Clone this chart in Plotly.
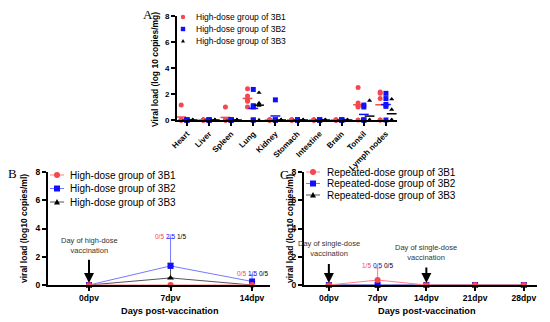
import numpy as np
import plotly.graph_objects as go

W, H = 550, 322
OX, OY = 8, 8   # page body margin offset
def px(x): return (x - OX) / W
def py(y): return 1 - (y - OY) / H

# ---------------- data ----------------
tissues = ["Heart", "Liver", "Spleen", "Lung", "Kidney", "Stomach",
           "Intestine", "Brain", "Tonsil", "Lymph nodes"]
a_3b1 = [[1.15, 0, 0, 0, 0], [0, 0, 0, 0, 0], [1.0, 0, 0, 0, 0],
         [2.4, 1.85, 1.6, 1.45, 1.0], [0, 0, 0, 0, 0], [0, 0, 0, 0, 0],
         [0, 0, 0, 0, 0], [0, 0, 0, 0, 0], [2.5, 1.3, 1.05, 1.0, 0],
         [2.15, 2.05, 1.65, 0, 0]]
a_3b2 = [[0, 0, 0, 0, 0], [0, 0, 0, 0, 0], [0, 0, 0, 0, 0],
         [2.35, 1.1, 1.0, 0, 0], [1.55, 0, 0, 0, 0], [0, 0, 0, 0, 0],
         [0, 0, 0, 0, 0], [0, 0, 0, 0, 0], [1.15, 1.0, 0, 0, 0],
         [2.05, 1.65, 1.2, 1.05, 0]]
a_3b3 = [[0, 0, 0, 0, 0], [0, 0, 0, 0, 0], [0, 0, 0, 0, 0],
         [2.1, 1.3, 1.2, 1.1, 0], [0, 0, 0, 0, 0], [0, 0, 0, 0, 0],
         [0, 0, 0, 0, 0], [0, 0, 0, 0, 0], [1.5, 0, 0, 0, 0],
         [1.6, 0.8, 0, 0, 0]]

b_days = ["0dpv", "7dpv", "14dpv"]
b_3b1 = [0, 0, 0]
b_3b1_sd = [0, 0, 0]
b_3b2 = [0, 1.35, 0.25]
b_3b2_sd = [0, 1.95, 0.45]
b_3b3 = [0, 0.5, 0]
b_3b3_sd = [0, 1.05, 0]
b_pos_7 = ["0/5", "2/5", "1/5"]
b_pos_14 = ["0/5", "1/5", "0/5"]

c_days = ["0dpv", "7dpv", "14dpv", "21dpv", "28dpv"]
c_3b1 = [0, 0.35, 0, 0, 0]
c_3b1_sd = [0, 0.85, 0, 0, 0]
c_3b2 = [0, 0, 0, 0, 0]
c_3b2_sd = [0, 0, 0, 0, 0]
c_3b3 = [0, 0, 0, 0, 0]
c_3b3_sd = [0, 0, 0, 0, 0]
c_pos_7 = ["1/5", "0/5", "0/5"]

yticks = [0, 2, 4, 6, 8]

RED = "#f5474f"
BLUE = "#1010ff"
BLACK = "#000000"
RED_L = "#ff7f86"
BLUE_L = "#7878ff"
GRAY_L = "#555555"
FONT = "Liberation Sans"

fig = go.Figure()

# ---------------- panel A ----------------
groups = [(a_3b1, RED, "circle", 5, -0.26), (a_3b2, BLUE, "square", 5, 0.0),
          (a_3b3, BLACK, "triangle-up", 4.5, 0.26)]
for vals, col, sym, sz, off in groups:
    xs, ys, mx, my = [], [], [], []
    for i, v in enumerate(vals):
        for val in v:
            xs.append(i + off)
            ys.append(val)
        mx.append(i + off)
        my.append(float(np.mean(v)))
    fig.add_trace(go.Scatter(x=mx, y=my, mode="markers", xaxis="x", yaxis="y",
                             marker=dict(symbol="line-ew", size=7,
                                         line=dict(color=col, width=1.5)),
                             cliponaxis=False, showlegend=False))
    fig.add_trace(go.Scatter(x=xs, y=ys, mode="markers", xaxis="x", yaxis="y",
                             marker=dict(symbol=sym, size=sz, color=col),
                             cliponaxis=False, showlegend=False))

# ---------------- panels B and C ----------------
def line_trace(xv, yv, sd, col, lcol, sym, xa, ya):
    return go.Scatter(x=xv, y=yv, mode="lines+markers", xaxis=xa, yaxis=ya,
                      line=dict(color=lcol, width=1),
                      marker=dict(symbol=sym, size=6, color=col),
                      error_y=dict(type="data", array=sd, arrayminus=[0] * len(sd),
                                   symmetric=False, color=lcol, thickness=1, width=3),
                      cliponaxis=False, showlegend=False)

bx = list(range(len(b_days)))
cx = list(range(len(c_days)))
fig.add_trace(line_trace(bx, b_3b3, b_3b3_sd, BLACK, GRAY_L, "triangle-up", "x2", "y2"))
fig.add_trace(line_trace(bx, b_3b2, b_3b2_sd, BLUE, BLUE_L, "square", "x2", "y2"))
fig.add_trace(line_trace(bx, b_3b1, b_3b1_sd, RED, RED_L, "circle", "x2", "y2"))
fig.add_trace(line_trace(cx, c_3b3, c_3b3_sd, BLACK, GRAY_L, "triangle-up", "x3", "y3"))
fig.add_trace(line_trace(cx, c_3b2, c_3b2_sd, BLUE, BLUE_L, "square", "x3", "y3"))
fig.add_trace(line_trace(cx, c_3b1, c_3b1_sd, RED, RED_L, "circle", "x3", "y3"))

# ---------------- axes ----------------
axis_common = dict(showgrid=False, zeroline=False, showline=True, linecolor="black",
                   linewidth=2, ticks="outside", ticklen=4, tickwidth=1.5,
                   tickcolor="black", automargin=False)
tickfont = dict(family=FONT, size=8, color="black", weight="bold")
tickfont_bc = dict(family=FONT, size=8.5, color="black", weight="bold")

fig.update_layout(
    width=W, height=H, margin=dict(l=0, r=0, t=0, b=0, autoexpand=False),
    paper_bgcolor="white", plot_bgcolor="white", showlegend=False,
    xaxis=dict(domain=[px(177), px(397)], range=[-0.45, 9.5], anchor="y",
               tickmode="array", tickvals=list(range(len(tissues))), ticktext=tissues,
               tickangle=-45, tickfont=tickfont, **axis_common),
    yaxis=dict(domain=[py(120), py(16)], range=[0, 8], anchor="x",
               tickvals=yticks, tickfont=tickfont, **axis_common),
    xaxis2=dict(domain=[px(48), px(270)], range=[-0.503, 2.22], anchor="y2",
                tickmode="array", tickvals=bx, ticktext=b_days, tickangle=0,
                tickfont=tickfont_bc, **axis_common),
    yaxis2=dict(domain=[py(285), py(172)], range=[0, 8], anchor="x2",
                tickvals=yticks, tickfont=tickfont_bc, **axis_common),
    xaxis3=dict(domain=[px(304), px(537)], range=[-0.51, 4.27], anchor="y3",
                tickmode="array", tickvals=cx, ticktext=c_days, tickangle=0,
                tickfont=tickfont_bc, **axis_common),
    yaxis3=dict(domain=[py(285), py(172)], range=[0, 8], anchor="x3",
                tickvals=yticks, tickfont=tickfont_bc, **axis_common),
)

ann = []
shapes = []

def note(text, x, y, font, xanchor="center", yanchor="middle", **kw):
    ann.append(dict(text=text, x=px(x), y=py(y), xref="paper", yref="paper",
                    xanchor=xanchor, yanchor=yanchor, showarrow=False, font=font, **kw))

# panel letters
for letter, x, y in [("A", 148, 15), ("B", 12, 173), ("C", 284, 174)]:
    note(letter, x, y, dict(family="Liberation Serif", size=13, color="black"))

# axis titles
titlefont = dict(family=FONT, size=8.5, color="black", weight="bold")
note("Viral load (log 10 copies/mg)", 155, 70, titlefont, textangle=-90)
note("viral load (log10 copies/ml)", 24, 229, titlefont, textangle=-90)
note("viral load (log10 copies/ml)", 290, 229, titlefont, textangle=-90)
xtitlefont = dict(family=FONT, size=9.2, color="black", weight="bold")
note("Days post-vaccination", 170, 311, xtitlefont)
note("Days post-vaccination", 427, 311, xtitlefont)

# positive-count labels
smallf = 6.5
cols3 = [RED, BLUE, BLACK]
def dnote(text, x, y, xa, ya, col):
    ann.append(dict(text=text, x=x, y=y, xref=xa, yref=ya, showarrow=False,
                    xanchor="center", yanchor="middle",
                    font=dict(family=FONT, size=smallf, color=col)))
for k, t in enumerate(b_pos_7):
    dnote(t, 1 + (k - 1) * 0.135, 3.45, "x2", "y2", cols3[k])
for k, t in enumerate(b_pos_14):
    dnote(t, 2 + (k - 1) * 0.135, 0.8, "x2", "y2", cols3[k])
for k, t in enumerate(c_pos_7):
    dnote(t, 1 + (k - 1) * 0.23, 1.35, "x3", "y3", cols3[k])

# vaccination arrows
notef = dict(family=FONT, size=7.5, color="#333333")
def vacc(xv, xa, ya, text, ytext, ytop):
    ann.append(dict(text=text, x=xv, y=ytext, xref=xa, yref=ya, showarrow=False,
                    font=notef, align="center", xanchor="center", yanchor="bottom"))
    ann.append(dict(text="", x=xv, y=0.15, xref=xa, yref=ya, ax=xv, ay=ytop,
                    axref=xa, ayref=ya, showarrow=True, arrowhead=2, arrowsize=1,
                    arrowwidth=2, arrowcolor="black"))

vacc(0, "x2", "y2", "Day of high-dose<br>vaccination", 2.0, 1.9)
vacc(0, "x3", "y3", "Day of single-dose<br>vaccination", 1.75, 1.6)
vacc(2, "x3", "y3", "Day of single-dose<br>vaccination", 1.5, 1.35)

# manual legends
def marker_shape(sym, cx_, cy_, r, col):
    if sym == "circle":
        shapes.append(dict(type="circle", xref="paper", yref="paper",
                           x0=px(cx_ - r), x1=px(cx_ + r), y0=py(cy_ + r), y1=py(cy_ - r),
                           fillcolor=col, line=dict(width=0)))
    elif sym == "square":
        shapes.append(dict(type="rect", xref="paper", yref="paper",
                           x0=px(cx_ - r), x1=px(cx_ + r), y0=py(cy_ + r), y1=py(cy_ - r),
                           fillcolor=col, line=dict(width=0)))
    else:
        path = "M {} {} L {} {} L {} {} Z".format(px(cx_ - r), py(cy_ + r * 0.8),
                                                   px(cx_ + r), py(cy_ + r * 0.8),
                                                   px(cx_), py(cy_ - r * 1.0))
        shapes.append(dict(type="path", xref="paper", yref="paper", path=path,
                           fillcolor=col, line=dict(width=0)))

syms = ["circle", "square", "triangle"]
leg_a = ["High-dose group of 3B1", "High-dose group of 3B2", "High-dose group of 3B3"]
for k, (lab, yy) in enumerate(zip(leg_a, [17, 29, 41])):
    marker_shape(syms[k], 183, yy, 2.2 if k < 2 else 2.0, cols3[k])
    note(lab, 194, yy, dict(family=FONT, size=8.5, color="black"), xanchor="left")

lcols = [RED_L, BLUE_L, GRAY_L]
leg_b = ["High-dose group of 3B1", "High-dose group of 3B2", "High-dose group of 3B3"]
for k, (lab, yy) in enumerate(zip(leg_b, [175, 188.5, 202])):
    shapes.append(dict(type="line", xref="paper", yref="paper", x0=px(50), x1=px(64),
                       y0=py(yy), y1=py(yy), line=dict(color=lcols[k], width=1)))
    marker_shape(syms[k], 57, yy, 3, cols3[k])
    note(lab, 68, yy, dict(family=FONT, size=10, color="black"), xanchor="left")

leg_c = ["Repeated-dose group of 3B1", "Repeated-dose group of 3B2", "Repeated-dose group of 3B3"]
for k, (lab, yy) in enumerate(zip(leg_c, [172, 183.5, 195])):
    shapes.append(dict(type="line", xref="paper", yref="paper", x0=px(306), x1=px(320),
                       y0=py(yy), y1=py(yy), line=dict(color=lcols[k], width=1)))
    marker_shape(syms[k], 313, yy, 3, cols3[k])
    note(lab, 325, yy, dict(family=FONT, size=10, color="black"), xanchor="left")

fig.update_layout(annotations=ann, shapes=shapes)
fig.write_html("out.html")
